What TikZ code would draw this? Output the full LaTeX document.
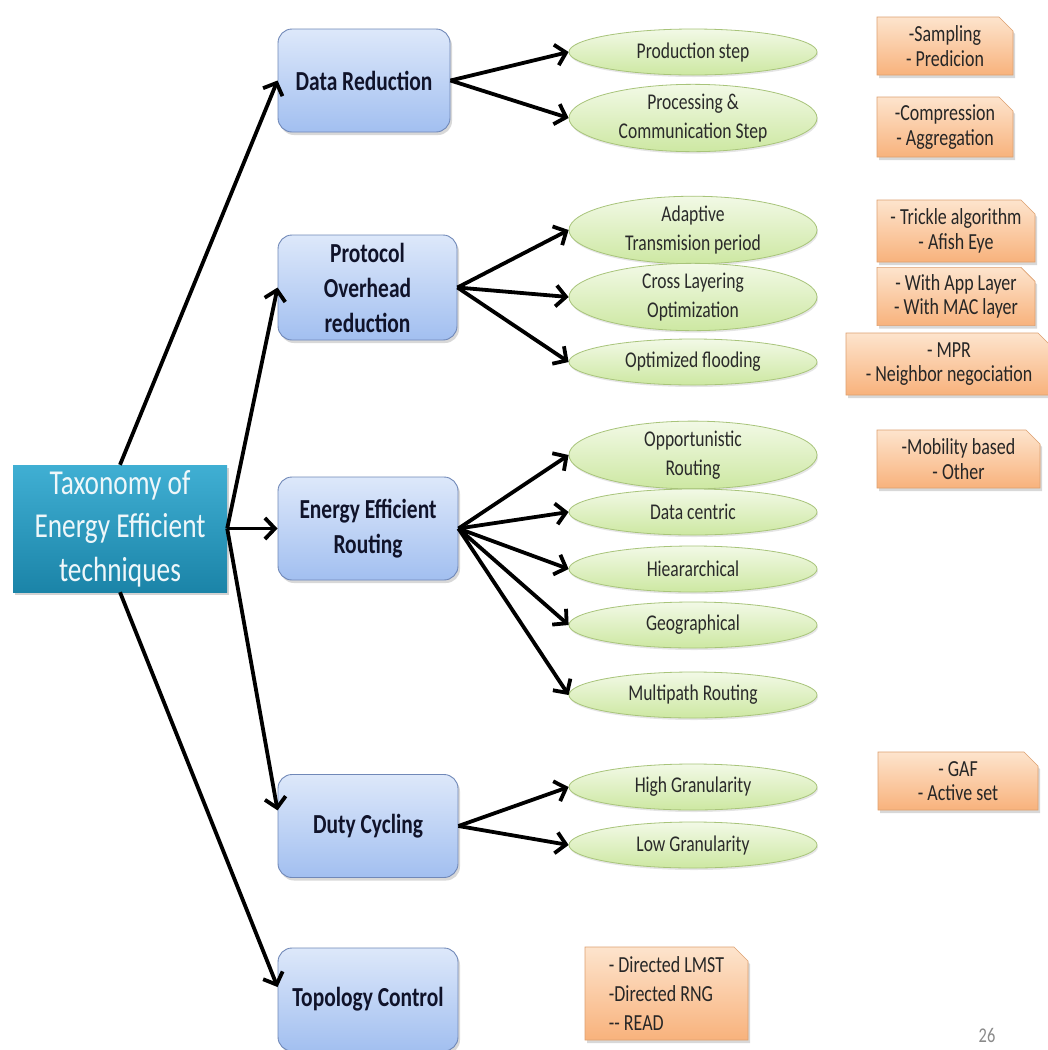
\documentclass[tikz,border=0pt]{standalone}
\usepackage{fontspec}
\setmainfont{Carlito}[FakeStretch=0.78]
\usetikzlibrary{arrows.meta,shapes.geometric,shapes.misc,shadows,calc}

\definecolor{rootT}{HTML}{40AFD3}
\definecolor{rootB}{HTML}{1B84A8}
\definecolor{rootText}{HTML}{EEF7FA}
\definecolor{boxT}{HTML}{DDE8FA}
\definecolor{boxB}{HTML}{A2BFF0}
\definecolor{boxLine}{HTML}{7088B8}
\definecolor{boxText}{HTML}{10132A}
\definecolor{leafT}{HTML}{F2F9E6}
\definecolor{leafB}{HTML}{CDE8A2}
\definecolor{leafLine}{HTML}{A8C47A}
\definecolor{leafText}{HTML}{2A2A2A}
\definecolor{noteT}{HTML}{FDE4CD}
\definecolor{noteB}{HTML}{F8B27C}
\definecolor{noteLine}{HTML}{DDA070}
\definecolor{noteText}{HTML}{262626}
\definecolor{pageNum}{HTML}{8A8A8A}

\begin{document}
\begin{tikzpicture}[x=1pt,y=-1pt,
  rootbox/.style={rectangle, draw=none, minimum width=214pt, minimum height=127pt,
    inner sep=0pt, top color=rootT, bottom color=rootB, text=rootText, align=center,
    font=\fontsize{35}{43.5}\selectfont,
    drop shadow={opacity=0.35, shadow xshift=2pt, shadow yshift=-3pt}},
  catbox/.style={rectangle, draw=boxLine, line width=0.9pt, rounded corners=14pt,
    minimum width=180pt, minimum height=103pt, inner sep=0pt,
    top color=boxT, bottom color=boxB, text=boxText, align=center,
    font=\bfseries\fontsize{27.5}{35}\selectfont,
    drop shadow={opacity=0.3, shadow xshift=2pt, shadow yshift=-3pt}},
  leaf/.style={ellipse, draw=leafLine, line width=0.8pt, minimum width=248pt,
    minimum height=46pt, inner sep=0pt, top color=leafT, bottom color=leafB,
    text=leafText, align=center, font=\fontsize{22.5}{28.5}\selectfont,
    drop shadow={opacity=0.2, shadow xshift=1pt, shadow yshift=-2pt}},
  note/.style={chamfered rectangle, chamfered rectangle corners=north east,
    chamfered rectangle xsep=7pt, chamfered rectangle ysep=7pt,
    draw=noteLine, line width=0.6pt, inner sep=0pt,
    top color=noteT, bottom color=noteB, text=noteText, align=center,
    font=\fontsize{23}{24.5}\selectfont,
    drop shadow={opacity=0.3, shadow xshift=2pt, shadow yshift=-3pt}},
  conn/.style={line width=3.8pt, -{Straight Barb[length=10pt,width=21pt]}}
]
\useasboundingbox[fill=white] (0,0) rectangle (1048,1050);

% root of the taxonomy
\node[rootbox] (root) at (120,528.5) {Taxonomy of\\Energy Efficient\\techniques};

% technique families
\node[catbox, minimum width=172pt] (dr) at (364,80.5) {Data Reduction};
\node[catbox, minimum width=179pt, minimum height=105pt] (po) at (367.5,287.5) {Protocol\\Overhead\\reduction};
\node[catbox] (er) at (368,528.5) {Energy Efficient\\Routing};
\node[catbox] (dc) at (368,826) {Duty Cycling};
\node[catbox] (tc) at (368,999.5) {Topology Control};

% sub-techniques
\node[leaf] (p1) at (693,52)  {Production step};
\node[leaf] (p2) at (693,118) {Processing \&\\Communication Step};
\node[leaf] (a1) at (693,230) {Adaptive\\Transmision period};
\node[leaf] (a2) at (693,297) {Cross Layering\\Optimization};
\node[leaf] (a3) at (693,362) {Optimized flooding};
\node[leaf] (r1) at (693,455) {Opportunistic\\Routing};
\node[leaf] (r2) at (693,512) {Data centric};
\node[leaf] (r3) at (693,569) {Hieararchical};
\node[leaf] (r4) at (693,625) {Geographical};
\node[leaf] (r5) at (693,695) {Multipath Routing};
\node[leaf] (d1) at (693,787) {High Granularity};
\node[leaf] (d2) at (693,845) {Low Granularity};

% example protocols
\node[note, minimum width=136pt, minimum height=58pt] (o1) at (945,46) {-Sampling\\- Predicion};
\node[note, minimum width=136pt, minimum height=60pt] (o2) at (945,127) {-Compression\\- Aggregation};
\node[note, minimum width=158pt, minimum height=62pt] (o3) at (956,231) {- Trickle algorithm\\- Afish Eye};
\node[note, minimum width=158pt, minimum height=57pt] (o4) at (956,296.5) {- With App Layer\\- With MAC layer};
\node[note, minimum width=206pt, minimum height=62pt] (o5) at (949,364) {- MPR\\- Neighbor negociation};
\node[note, minimum width=163pt, minimum height=58pt] (o6) at (958.5,459) {-Mobility based\\- Other};
\node[note, minimum width=160pt, minimum height=58pt] (o7) at (958,781) {- GAF\\- Active set};
\node[note, minimum width=163pt, minimum height=93pt, align=left,
      font=\fontsize{23}{29}\selectfont] (o8) at (666.5,993.5)
      {- Directed LMST\\-Directed RNG\\-{}- READ};

\node[text=pageNum, font=\fontsize{21}{24}\selectfont] (pg) at (987,1035) {26};

% connectors from the root
\draw[conn] (root.north) -- (dr.west);
\draw[conn] (root.east) -- (po.west);
\draw[conn] (root.east) -- (er.west);
\draw[conn] (root.east) -- ($(dc.north west)!0.35!(dc.south west)$);
\draw[conn] (root.south) -- ($(tc.north west)!0.38!(tc.south west)$);

% connectors to sub-techniques
\draw[conn] (dr.east) -- (p1.west);
\draw[conn] (dr.east) -- (p2.west);
\draw[conn] (po.east) -- (a1.west);
\draw[conn] (po.east) -- (a2.west);
\draw[conn] (po.east) -- (a3.west);
\draw[conn] (er.east) -- (r1.west);
\draw[conn] (er.east) -- (r2.west);
\draw[conn] (er.east) -- (r3.west);
\draw[conn] (er.east) -- (r4.west);
\draw[conn] (er.east) -- (r5.west);
\draw[conn] (dc.east) -- (d1.west);
\draw[conn] (dc.east) -- (d2.west);
\end{tikzpicture}
\end{document}
